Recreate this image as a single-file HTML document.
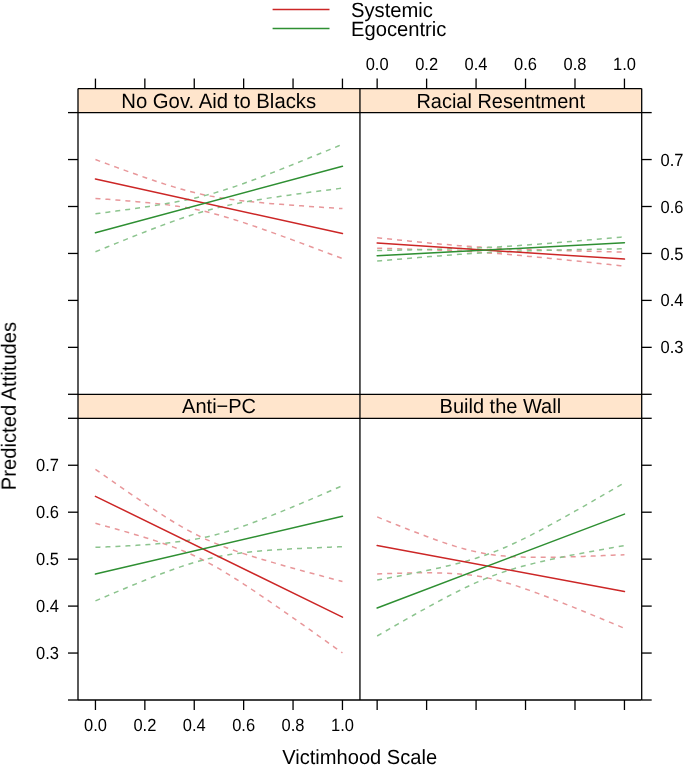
<!DOCTYPE html><html><head><meta charset="utf-8"><style>html,body{margin:0;padding:0;background:#fff;}svg{display:block;}text{font-family:"Liberation Sans",sans-serif;fill:#000;will-change:transform;text-rendering:geometricPrecision;}</style></head><body>
<svg width="685" height="767" viewBox="0 0 685 767">
<rect x="0" y="0" width="685" height="767" fill="#fff"/>
<line x1="272.6" y1="9.5" x2="329.5" y2="9.5" stroke="#cc2626" stroke-width="1.5"/>
<line x1="272.6" y1="28.6" x2="329.5" y2="28.6" stroke="#2e8f32" stroke-width="1.5"/>
<text transform="translate(351.00,16.80) scale(1,1.020)" font-size="20.20">Systemic</text>
<text transform="translate(351.00,35.60) scale(1,1.020)" font-size="20.20">Egocentric</text>
<rect x="78.00" y="88.60" width="281.95" height="24.00" fill="#ffe5cc"/>
<rect x="78.00" y="394.30" width="281.95" height="24.00" fill="#ffe5cc"/>
<rect x="359.95" y="88.60" width="281.75" height="24.00" fill="#ffe5cc"/>
<rect x="359.95" y="394.30" width="281.75" height="24.00" fill="#ffe5cc"/>
<polyline points="95.45,159.55 99.57,161.08 103.68,162.61 107.80,164.13 111.92,165.64 116.03,167.15 120.15,168.65 124.27,170.15 128.38,171.63 132.50,173.11 136.62,174.57 140.73,176.02 144.85,177.46 148.97,178.88 153.08,180.28 157.20,181.66 161.32,183.01 165.43,184.34 169.55,185.64 173.67,186.90 177.78,188.13 181.90,189.31 186.02,190.44 190.13,191.53 194.25,192.56 198.37,193.54 202.48,194.46 206.60,195.32 210.72,196.12 214.83,196.87 218.95,197.57 223.07,198.22 227.18,198.83 231.30,199.40 235.42,199.93 239.53,200.43 243.65,200.90 247.77,201.35 251.88,201.78 256.00,202.18 260.12,202.57 264.23,202.95 268.35,203.31 272.47,203.66 276.58,203.99 280.70,204.32 284.82,204.64 288.93,204.96 293.05,205.26 297.17,205.56 301.28,205.86 305.40,206.15 309.52,206.43 313.63,206.72 317.75,206.99 321.87,207.27 325.98,207.54 330.10,207.81 334.22,208.07 338.33,208.34 342.45,208.60" fill="none" stroke="#e8979a" stroke-width="1.5" stroke-dasharray="5 5"/>
<polyline points="95.45,198.45 99.57,198.74 103.68,199.03 107.80,199.33 111.92,199.64 116.03,199.95 120.15,200.27 124.27,200.59 128.38,200.93 132.50,201.27 136.62,201.63 140.73,202.00 144.85,202.38 148.97,202.78 153.08,203.20 157.20,203.64 161.32,204.11 165.43,204.60 169.55,205.12 173.67,205.68 177.78,206.27 181.90,206.91 186.02,207.60 190.13,208.33 194.25,209.12 198.37,209.96 202.48,210.86 206.60,211.82 210.72,212.84 214.83,213.91 218.95,215.03 223.07,216.20 227.18,217.41 231.30,218.66 235.42,219.95 239.53,221.27 243.65,222.62 247.77,223.99 251.88,225.38 256.00,226.80 260.12,228.23 264.23,229.67 268.35,231.13 272.47,232.60 276.58,234.09 280.70,235.58 284.82,237.08 288.93,238.58 293.05,240.10 297.17,241.62 301.28,243.14 305.40,244.67 309.52,246.21 313.63,247.74 317.75,249.29 321.87,250.83 325.98,252.38 330.10,253.93 334.22,255.49 338.33,257.04 342.45,258.60" fill="none" stroke="#e8979a" stroke-width="1.5" stroke-dasharray="5 5"/>
<polyline points="95.45,213.80 99.57,213.27 103.68,212.73 107.80,212.18 111.92,211.64 116.03,211.08 120.15,210.53 124.27,209.96 128.38,209.39 132.50,208.81 136.62,208.23 140.73,207.63 144.85,207.02 148.97,206.40 153.08,205.77 157.20,205.12 161.32,204.45 165.43,203.76 169.55,203.05 173.67,202.32 177.78,201.55 181.90,200.76 186.02,199.93 190.13,199.06 194.25,198.15 198.37,197.19 202.48,196.18 206.60,195.12 210.72,194.01 214.83,192.85 218.95,191.64 223.07,190.38 227.18,189.08 231.30,187.73 235.42,186.34 239.53,184.92 243.65,183.46 247.77,181.98 251.88,180.47 256.00,178.94 260.12,177.38 264.23,175.81 268.35,174.23 272.47,172.63 276.58,171.02 280.70,169.40 284.82,167.76 288.93,166.12 293.05,164.47 297.17,162.82 301.28,161.16 305.40,159.49 309.52,157.82 313.63,156.14 317.75,154.46 321.87,152.77 325.98,151.08 330.10,149.39 334.22,147.70 338.33,146.00 342.45,144.30" fill="none" stroke="#8cc48e" stroke-width="1.5" stroke-dasharray="5 5"/>
<polyline points="95.45,251.80 99.57,250.11 103.68,248.43 107.80,246.76 111.92,245.08 116.03,243.42 120.15,241.75 124.27,240.10 128.38,238.45 132.50,236.81 136.62,235.17 140.73,233.55 144.85,231.94 148.97,230.34 153.08,228.75 157.20,227.18 161.32,225.63 165.43,224.10 169.55,222.59 173.67,221.10 177.78,219.65 181.90,218.22 186.02,216.83 190.13,215.48 194.25,214.17 198.37,212.91 202.48,211.70 206.60,210.54 210.72,209.43 214.83,208.37 218.95,207.36 223.07,206.40 227.18,205.48 231.30,204.61 235.42,203.78 239.53,202.98 243.65,202.22 247.77,201.48 251.88,200.77 256.00,200.08 260.12,199.42 264.23,198.77 268.35,198.13 272.47,197.51 276.58,196.90 280.70,196.30 284.82,195.72 288.93,195.14 293.05,194.57 297.17,194.00 301.28,193.44 305.40,192.89 309.52,192.34 313.63,191.80 317.75,191.26 321.87,190.73 325.98,190.20 330.10,189.67 334.22,189.14 338.33,188.62 342.45,188.10" fill="none" stroke="#8cc48e" stroke-width="1.5" stroke-dasharray="5 5"/>
<polyline points="377.15,237.80 381.27,238.23 385.39,238.65 389.51,239.07 393.64,239.49 397.76,239.91 401.88,240.33 406.00,240.74 410.12,241.15 414.25,241.56 418.37,241.96 422.49,242.35 426.61,242.75 430.73,243.13 434.85,243.52 438.98,243.89 443.10,244.26 447.22,244.62 451.34,244.97 455.46,245.31 459.58,245.64 463.70,245.95 467.83,246.26 471.95,246.56 476.07,246.84 480.19,247.11 484.31,247.36 488.44,247.61 492.56,247.84 496.68,248.06 500.80,248.27 504.92,248.46 509.04,248.65 513.16,248.83 517.29,249.00 521.41,249.16 525.53,249.32 529.65,249.47 533.77,249.61 537.89,249.75 542.02,249.89 546.14,250.02 550.26,250.15 554.38,250.27 558.50,250.39 562.62,250.51 566.75,250.63 570.87,250.74 574.99,250.86 579.11,250.97 583.23,251.08 587.36,251.18 591.48,251.29 595.60,251.39 599.72,251.50 603.84,251.60 607.96,251.70 612.09,251.80 616.21,251.90 620.33,252.00 624.45,252.10" fill="none" stroke="#e8979a" stroke-width="1.5" stroke-dasharray="5 5"/>
<polyline points="377.15,248.20 381.27,248.31 385.39,248.42 389.51,248.54 393.64,248.65 397.76,248.77 401.88,248.89 406.00,249.02 410.12,249.14 414.25,249.27 418.37,249.41 422.49,249.55 426.61,249.69 430.73,249.84 434.85,250.00 438.98,250.16 443.10,250.33 447.22,250.51 451.34,250.69 455.46,250.89 459.58,251.10 463.70,251.32 467.83,251.55 471.95,251.79 476.07,252.04 480.19,252.31 484.31,252.59 488.44,252.88 492.56,253.19 496.68,253.51 500.80,253.83 504.92,254.17 509.04,254.52 513.16,254.88 517.29,255.25 521.41,255.62 525.53,256.00 529.65,256.39 533.77,256.78 537.89,257.18 542.02,257.58 546.14,257.98 550.26,258.39 554.38,258.80 558.50,259.22 562.62,259.64 566.75,260.06 570.87,260.48 574.99,260.90 579.11,261.33 583.23,261.76 587.36,262.19 591.48,262.62 595.60,263.05 599.72,263.48 603.84,263.92 607.96,264.35 612.09,264.79 616.21,265.22 620.33,265.66 624.45,266.10" fill="none" stroke="#e8979a" stroke-width="1.5" stroke-dasharray="5 5"/>
<polyline points="377.15,250.55 381.27,250.48 385.39,250.40 389.51,250.32 393.64,250.25 397.76,250.17 401.88,250.08 406.00,250.00 410.12,249.91 414.25,249.82 418.37,249.73 422.49,249.64 426.61,249.54 430.73,249.44 434.85,249.33 438.98,249.22 443.10,249.10 447.22,248.98 451.34,248.85 455.46,248.72 459.58,248.58 463.70,248.43 467.83,248.27 471.95,248.11 476.07,247.93 480.19,247.75 484.31,247.55 488.44,247.35 492.56,247.13 496.68,246.91 500.80,246.67 504.92,246.42 509.04,246.17 513.16,245.90 517.29,245.63 521.41,245.34 525.53,245.05 529.65,244.76 533.77,244.45 537.89,244.14 542.02,243.82 546.14,243.50 550.26,243.18 554.38,242.85 558.50,242.51 562.62,242.17 566.75,241.83 570.87,241.49 574.99,241.14 579.11,240.80 583.23,240.44 587.36,240.09 591.48,239.74 595.60,239.38 599.72,239.02 603.84,238.66 607.96,238.30 612.09,237.94 616.21,237.58 620.33,237.21 624.45,236.85" fill="none" stroke="#8cc48e" stroke-width="1.5" stroke-dasharray="5 5"/>
<polyline points="377.15,261.05 381.27,260.69 385.39,260.33 389.51,259.98 393.64,259.62 397.76,259.27 401.88,258.92 406.00,258.57 410.12,258.22 414.25,257.88 418.37,257.53 422.49,257.20 426.61,256.86 430.73,256.53 434.85,256.20 438.98,255.88 443.10,255.56 447.22,255.25 451.34,254.95 455.46,254.65 459.58,254.35 463.70,254.07 467.83,253.79 471.95,253.53 476.07,253.27 480.19,253.02 484.31,252.78 488.44,252.55 492.56,252.33 496.68,252.13 500.80,251.93 504.92,251.74 509.04,251.57 513.16,251.40 517.29,251.24 521.41,251.09 525.53,250.95 529.65,250.81 533.77,250.68 537.89,250.56 542.02,250.44 546.14,250.33 550.26,250.22 554.38,250.12 558.50,250.02 562.62,249.93 566.75,249.83 570.87,249.74 574.99,249.66 579.11,249.57 583.23,249.49 587.36,249.41 591.48,249.33 595.60,249.25 599.72,249.18 603.84,249.10 607.96,249.03 612.09,248.96 616.21,248.89 620.33,248.82 624.45,248.75" fill="none" stroke="#8cc48e" stroke-width="1.5" stroke-dasharray="5 5"/>
<polyline points="95.45,469.30 99.57,472.20 103.68,475.10 107.80,477.99 111.92,480.87 116.03,483.75 120.15,486.61 124.27,489.46 128.38,492.30 132.50,495.13 136.62,497.94 140.73,500.73 144.85,503.50 148.97,506.25 153.08,508.97 157.20,511.66 161.32,514.31 165.43,516.92 169.55,519.49 173.67,522.01 177.78,524.47 181.90,526.86 186.02,529.18 190.13,531.43 194.25,533.59 198.37,535.67 202.48,537.66 206.60,539.57 210.72,541.39 214.83,543.14 218.95,544.81 223.07,546.41 227.18,547.95 231.30,549.43 235.42,550.87 239.53,552.27 243.65,553.62 247.77,554.95 251.88,556.24 256.00,557.51 260.12,558.76 264.23,559.99 268.35,561.20 272.47,562.40 276.58,563.58 280.70,564.75 284.82,565.91 288.93,567.07 293.05,568.21 297.17,569.34 301.28,570.47 305.40,571.60 309.52,572.71 313.63,573.83 317.75,574.93 321.87,576.04 325.98,577.14 330.10,578.23 334.22,579.32 338.33,580.41 342.45,581.50" fill="none" stroke="#e8979a" stroke-width="1.5" stroke-dasharray="5 5"/>
<polyline points="95.45,523.30 99.57,524.43 103.68,525.56 107.80,526.70 111.92,527.85 116.03,529.00 120.15,530.17 124.27,531.35 128.38,532.54 132.50,533.74 136.62,534.96 140.73,536.20 144.85,537.46 148.97,538.74 153.08,540.05 157.20,541.39 161.32,542.77 165.43,544.19 169.55,545.65 173.67,547.16 177.78,548.73 181.90,550.37 186.02,552.08 190.13,553.86 194.25,555.73 198.37,557.68 202.48,559.72 206.60,561.84 210.72,564.05 214.83,566.33 218.95,568.69 223.07,571.12 227.18,573.61 231.30,576.16 235.42,578.75 239.53,581.38 243.65,584.06 247.77,586.76 251.88,589.50 256.00,592.26 260.12,595.04 264.23,597.84 268.35,600.66 272.47,603.49 276.58,606.34 280.70,609.20 284.82,612.07 288.93,614.94 293.05,617.83 297.17,620.73 301.28,623.63 305.40,626.53 309.52,629.45 313.63,632.36 317.75,635.29 321.87,638.21 325.98,641.14 330.10,644.08 334.22,647.02 338.33,649.96 342.45,652.90" fill="none" stroke="#e8979a" stroke-width="1.5" stroke-dasharray="5 5"/>
<polyline points="95.45,547.30 99.57,547.13 103.68,546.96 107.80,546.78 111.92,546.60 116.03,546.41 120.15,546.21 124.27,546.00 128.38,545.78 132.50,545.55 136.62,545.31 140.73,545.05 144.85,544.78 148.97,544.50 153.08,544.19 157.20,543.86 161.32,543.51 165.43,543.13 169.55,542.72 173.67,542.27 177.78,541.79 181.90,541.26 186.02,540.68 190.13,540.05 194.25,539.37 198.37,538.62 202.48,537.81 206.60,536.93 210.72,535.98 214.83,534.96 218.95,533.87 223.07,532.72 227.18,531.50 231.30,530.22 235.42,528.89 239.53,527.51 243.65,526.08 247.77,524.61 251.88,523.11 256.00,521.57 260.12,520.01 264.23,518.42 268.35,516.80 272.47,515.17 276.58,513.52 280.70,511.85 284.82,510.16 288.93,508.47 293.05,506.76 297.17,505.04 301.28,503.32 305.40,501.58 309.52,499.84 313.63,498.09 317.75,496.34 321.87,494.57 325.98,492.81 330.10,491.04 334.22,489.26 338.33,487.48 342.45,485.70" fill="none" stroke="#8cc48e" stroke-width="1.5" stroke-dasharray="5 5"/>
<polyline points="95.45,600.90 99.57,599.14 103.68,597.38 107.80,595.63 111.92,593.88 116.03,592.14 120.15,590.41 124.27,588.69 128.38,586.98 132.50,585.28 136.62,583.59 140.73,581.92 144.85,580.26 148.97,578.61 153.08,576.99 157.20,575.39 161.32,573.81 165.43,572.26 169.55,570.74 173.67,569.26 177.78,567.81 181.90,566.41 186.02,565.06 190.13,563.76 194.25,562.51 198.37,561.33 202.48,560.21 206.60,559.16 210.72,558.18 214.83,557.27 218.95,556.43 223.07,555.65 227.18,554.94 231.30,554.29 235.42,553.69 239.53,553.14 243.65,552.64 247.77,552.18 251.88,551.75 256.00,551.36 260.12,550.99 264.23,550.65 268.35,550.34 272.47,550.04 276.58,549.76 280.70,549.50 284.82,549.26 288.93,549.02 293.05,548.80 297.17,548.59 301.28,548.38 305.40,548.19 309.52,548.00 313.63,547.82 317.75,547.64 321.87,547.48 325.98,547.31 330.10,547.15 334.22,547.00 338.33,546.85 342.45,546.70" fill="none" stroke="#8cc48e" stroke-width="1.5" stroke-dasharray="5 5"/>
<polyline points="377.15,516.90 381.27,518.58 385.39,520.26 389.51,521.93 393.64,523.59 397.76,525.25 401.88,526.89 406.00,528.52 410.12,530.13 414.25,531.74 418.37,533.32 422.49,534.89 426.61,536.43 430.73,537.95 434.85,539.45 438.98,540.91 443.10,542.34 447.22,543.72 451.34,545.07 455.46,546.36 459.58,547.59 463.70,548.76 467.83,549.86 471.95,550.89 476.07,551.83 480.19,552.69 484.31,553.47 488.44,554.16 492.56,554.77 496.68,555.29 500.80,555.74 504.92,556.12 509.04,556.43 513.16,556.69 517.29,556.89 521.41,557.05 525.53,557.17 529.65,557.25 533.77,557.30 537.89,557.32 542.02,557.31 546.14,557.29 550.26,557.24 554.38,557.18 558.50,557.10 562.62,557.01 566.75,556.91 570.87,556.79 574.99,556.67 579.11,556.54 583.23,556.40 587.36,556.25 591.48,556.10 595.60,555.94 599.72,555.77 603.84,555.60 607.96,555.43 612.09,555.25 616.21,555.07 620.33,554.89 624.45,554.70" fill="none" stroke="#e8979a" stroke-width="1.5" stroke-dasharray="5 5"/>
<polyline points="377.15,573.90 381.27,573.75 385.39,573.61 389.51,573.48 393.64,573.35 397.76,573.24 401.88,573.13 406.00,573.04 410.12,572.96 414.25,572.89 418.37,572.84 422.49,572.82 426.61,572.81 430.73,572.82 434.85,572.87 438.98,572.94 443.10,573.05 447.22,573.20 451.34,573.39 455.46,573.64 459.58,573.94 463.70,574.31 467.83,574.75 471.95,575.26 476.07,575.85 480.19,576.52 484.31,577.28 488.44,578.13 492.56,579.06 496.68,580.07 500.80,581.16 504.92,582.32 509.04,583.54 513.16,584.82 517.29,586.15 521.41,587.53 525.53,588.95 529.65,590.41 533.77,591.90 537.89,593.41 542.02,594.96 546.14,596.52 550.26,598.10 554.38,599.70 558.50,601.31 562.62,602.94 566.75,604.58 570.87,606.23 574.99,607.89 579.11,609.56 583.23,611.24 587.36,612.92 591.48,614.61 595.60,616.31 599.72,618.01 603.84,619.71 607.96,621.42 612.09,623.14 616.21,624.85 620.33,626.58 624.45,628.30" fill="none" stroke="#e8979a" stroke-width="1.5" stroke-dasharray="5 5"/>
<polyline points="377.15,580.00 381.27,579.26 385.39,578.51 389.51,577.76 393.64,577.00 397.76,576.23 401.88,575.46 406.00,574.67 410.12,573.88 414.25,573.07 418.37,572.25 422.49,571.42 426.61,570.57 430.73,569.70 434.85,568.82 438.98,567.91 443.10,566.98 447.22,566.02 451.34,565.03 455.46,564.00 459.58,562.94 463.70,561.83 467.83,560.67 471.95,559.46 476.07,558.20 480.19,556.87 484.31,555.47 488.44,554.01 492.56,552.48 496.68,550.88 500.80,549.20 504.92,547.46 509.04,545.66 513.16,543.79 517.29,541.87 521.41,539.89 525.53,537.87 529.65,535.80 533.77,533.69 537.89,531.55 542.02,529.38 546.14,527.18 550.26,524.95 554.38,522.71 558.50,520.44 562.62,518.16 566.75,515.86 570.87,513.55 574.99,511.22 579.11,508.89 583.23,506.54 587.36,504.19 591.48,501.82 595.60,499.45 599.72,497.08 603.84,494.69 607.96,492.30 612.09,489.91 616.21,487.51 620.33,485.11 624.45,482.70" fill="none" stroke="#8cc48e" stroke-width="1.5" stroke-dasharray="5 5"/>
<polyline points="377.15,636.00 381.27,633.61 385.39,631.23 389.51,628.85 393.64,626.48 397.76,624.12 401.88,621.76 406.00,619.42 410.12,617.08 414.25,614.76 418.37,612.45 422.49,610.15 426.61,607.87 430.73,605.61 434.85,603.36 438.98,601.14 443.10,598.94 447.22,596.77 451.34,594.63 455.46,592.53 459.58,590.46 463.70,588.44 467.83,586.47 471.95,584.55 476.07,582.68 480.19,580.88 484.31,579.15 488.44,577.48 492.56,575.88 496.68,574.35 500.80,572.90 504.92,571.51 509.04,570.18 513.16,568.92 517.29,567.71 521.41,566.56 525.53,565.45 529.65,564.39 533.77,563.37 537.89,562.38 542.02,561.42 546.14,560.49 550.26,559.59 554.38,558.70 558.50,557.84 562.62,556.99 566.75,556.16 570.87,555.34 574.99,554.54 579.11,553.74 583.23,552.96 587.36,552.18 591.48,551.42 595.60,550.66 599.72,549.90 603.84,549.16 607.96,548.42 612.09,547.68 616.21,546.95 620.33,546.22 624.45,545.50" fill="none" stroke="#8cc48e" stroke-width="1.5" stroke-dasharray="5 5"/>
<line x1="95.45" y1="179.00" x2="342.45" y2="233.60" stroke="#cc2626" stroke-width="1.5" stroke-linecap="round"/>
<line x1="95.45" y1="232.80" x2="342.45" y2="166.20" stroke="#2e8f32" stroke-width="1.5" stroke-linecap="round"/>
<line x1="377.15" y1="243.00" x2="624.45" y2="259.10" stroke="#cc2626" stroke-width="1.5" stroke-linecap="round"/>
<line x1="377.15" y1="255.80" x2="624.45" y2="242.80" stroke="#2e8f32" stroke-width="1.5" stroke-linecap="round"/>
<line x1="95.45" y1="496.30" x2="342.45" y2="617.20" stroke="#cc2626" stroke-width="1.5" stroke-linecap="round"/>
<line x1="95.45" y1="574.10" x2="342.45" y2="516.20" stroke="#2e8f32" stroke-width="1.5" stroke-linecap="round"/>
<line x1="377.15" y1="545.40" x2="624.45" y2="591.50" stroke="#cc2626" stroke-width="1.5" stroke-linecap="round"/>
<line x1="377.15" y1="608.00" x2="624.45" y2="514.10" stroke="#2e8f32" stroke-width="1.5" stroke-linecap="round"/>
<g stroke="#000000" stroke-width="1.30" stroke-linecap="butt">
<line x1="78.00" y1="88.60" x2="641.70" y2="88.60"/><line x1="78.00" y1="112.60" x2="641.70" y2="112.60"/><line x1="78.00" y1="394.30" x2="641.70" y2="394.30"/><line x1="78.00" y1="418.30" x2="641.70" y2="418.30"/><line x1="78.00" y1="700.00" x2="641.70" y2="700.00"/><line x1="78.00" y1="88.60" x2="78.00" y2="700.00"/><line x1="359.95" y1="88.60" x2="359.95" y2="700.00"/><line x1="641.70" y1="88.60" x2="641.70" y2="700.00"/><line x1="95.45" y1="88.60" x2="95.45" y2="78.60"/><line x1="144.85" y1="88.60" x2="144.85" y2="78.60"/><line x1="194.25" y1="88.60" x2="194.25" y2="78.60"/><line x1="243.65" y1="88.60" x2="243.65" y2="78.60"/><line x1="293.05" y1="88.60" x2="293.05" y2="78.60"/><line x1="342.45" y1="88.60" x2="342.45" y2="78.60"/><line x1="377.15" y1="88.60" x2="377.15" y2="78.60"/><line x1="426.61" y1="88.60" x2="426.61" y2="78.60"/><line x1="476.07" y1="88.60" x2="476.07" y2="78.60"/><line x1="525.53" y1="88.60" x2="525.53" y2="78.60"/><line x1="574.99" y1="88.60" x2="574.99" y2="78.60"/><line x1="624.45" y1="88.60" x2="624.45" y2="78.60"/><line x1="95.45" y1="700.00" x2="95.45" y2="710.00"/><line x1="144.85" y1="700.00" x2="144.85" y2="710.00"/><line x1="194.25" y1="700.00" x2="194.25" y2="710.00"/><line x1="243.65" y1="700.00" x2="243.65" y2="710.00"/><line x1="293.05" y1="700.00" x2="293.05" y2="710.00"/><line x1="342.45" y1="700.00" x2="342.45" y2="710.00"/><line x1="377.15" y1="700.00" x2="377.15" y2="710.00"/><line x1="426.61" y1="700.00" x2="426.61" y2="710.00"/><line x1="476.07" y1="700.00" x2="476.07" y2="710.00"/><line x1="525.53" y1="700.00" x2="525.53" y2="710.00"/><line x1="574.99" y1="700.00" x2="574.99" y2="710.00"/><line x1="624.45" y1="700.00" x2="624.45" y2="710.00"/><line x1="78.00" y1="394.30" x2="68.00" y2="394.30"/><line x1="641.70" y1="394.30" x2="651.70" y2="394.30"/><line x1="78.00" y1="700.00" x2="68.00" y2="700.00"/><line x1="641.70" y1="700.00" x2="651.70" y2="700.00"/><line x1="78.00" y1="347.35" x2="68.00" y2="347.35"/><line x1="641.70" y1="347.35" x2="651.70" y2="347.35"/><line x1="78.00" y1="653.05" x2="68.00" y2="653.05"/><line x1="641.70" y1="653.05" x2="651.70" y2="653.05"/><line x1="78.00" y1="300.40" x2="68.00" y2="300.40"/><line x1="641.70" y1="300.40" x2="651.70" y2="300.40"/><line x1="78.00" y1="606.10" x2="68.00" y2="606.10"/><line x1="641.70" y1="606.10" x2="651.70" y2="606.10"/><line x1="78.00" y1="253.45" x2="68.00" y2="253.45"/><line x1="641.70" y1="253.45" x2="651.70" y2="253.45"/><line x1="78.00" y1="559.15" x2="68.00" y2="559.15"/><line x1="641.70" y1="559.15" x2="651.70" y2="559.15"/><line x1="78.00" y1="206.50" x2="68.00" y2="206.50"/><line x1="641.70" y1="206.50" x2="651.70" y2="206.50"/><line x1="78.00" y1="512.20" x2="68.00" y2="512.20"/><line x1="641.70" y1="512.20" x2="651.70" y2="512.20"/><line x1="78.00" y1="159.55" x2="68.00" y2="159.55"/><line x1="641.70" y1="159.55" x2="651.70" y2="159.55"/><line x1="78.00" y1="465.25" x2="68.00" y2="465.25"/><line x1="641.70" y1="465.25" x2="651.70" y2="465.25"/><line x1="78.00" y1="112.60" x2="68.00" y2="112.60"/><line x1="641.70" y1="112.60" x2="651.70" y2="112.60"/><line x1="78.00" y1="418.30" x2="68.00" y2="418.30"/><line x1="641.70" y1="418.30" x2="651.70" y2="418.30"/>
</g>
<text transform="translate(218.68,107.70) scale(1,1.020)" font-size="20.32" text-anchor="middle">No Gov. Aid to Blacks</text>
<text transform="translate(500.68,107.70) scale(1,1.020)" font-size="19.97" text-anchor="middle">Racial Resentment</text>
<text transform="translate(219.08,413.30) scale(1,1.020)" font-size="20.03" text-anchor="middle">Anti−PC</text>
<text transform="translate(500.33,413.30) scale(1,1.020)" font-size="20.00" text-anchor="middle">Build the Wall</text>
<text transform="translate(377.15,69.50) scale(1,1.070)" font-size="16.50" text-anchor="middle">0.0</text>
<text transform="translate(426.61,69.50) scale(1,1.070)" font-size="16.50" text-anchor="middle">0.2</text>
<text transform="translate(476.07,69.50) scale(1,1.070)" font-size="16.50" text-anchor="middle">0.4</text>
<text transform="translate(525.53,69.50) scale(1,1.070)" font-size="16.50" text-anchor="middle">0.6</text>
<text transform="translate(574.99,69.50) scale(1,1.070)" font-size="16.50" text-anchor="middle">0.8</text>
<text transform="translate(624.45,69.50) scale(1,1.070)" font-size="16.50" text-anchor="middle">1.0</text>
<text transform="translate(95.45,731.00) scale(1,1.070)" font-size="16.50" text-anchor="middle">0.0</text>
<text transform="translate(144.85,731.00) scale(1,1.070)" font-size="16.50" text-anchor="middle">0.2</text>
<text transform="translate(194.25,731.00) scale(1,1.070)" font-size="16.50" text-anchor="middle">0.4</text>
<text transform="translate(243.65,731.00) scale(1,1.070)" font-size="16.50" text-anchor="middle">0.6</text>
<text transform="translate(293.05,731.00) scale(1,1.070)" font-size="16.50" text-anchor="middle">0.8</text>
<text transform="translate(342.45,731.00) scale(1,1.070)" font-size="16.50" text-anchor="middle">1.0</text>
<text transform="translate(660.50,353.45) scale(1,1.070)" font-size="16.50">0.3</text>
<text transform="translate(660.50,306.50) scale(1,1.070)" font-size="16.50">0.4</text>
<text transform="translate(660.50,259.55) scale(1,1.070)" font-size="16.50">0.5</text>
<text transform="translate(660.50,212.60) scale(1,1.070)" font-size="16.50">0.6</text>
<text transform="translate(660.50,165.65) scale(1,1.070)" font-size="16.50">0.7</text>
<text transform="translate(59.00,658.85) scale(1,1.070)" font-size="16.50" text-anchor="end">0.3</text>
<text transform="translate(59.00,611.90) scale(1,1.070)" font-size="16.50" text-anchor="end">0.4</text>
<text transform="translate(59.00,564.95) scale(1,1.070)" font-size="16.50" text-anchor="end">0.5</text>
<text transform="translate(59.00,518.00) scale(1,1.070)" font-size="16.50" text-anchor="end">0.6</text>
<text transform="translate(59.00,471.05) scale(1,1.070)" font-size="16.50" text-anchor="end">0.7</text>
<text transform="translate(359.65,764.40) scale(1,1.020)" font-size="20.12" text-anchor="middle">Victimhood Scale</text>
<text transform="translate(16.10,406.00) rotate(-90) scale(1,1.020)" font-size="20.20" text-anchor="middle">Predicted Attitudes</text>
</svg></body></html>
